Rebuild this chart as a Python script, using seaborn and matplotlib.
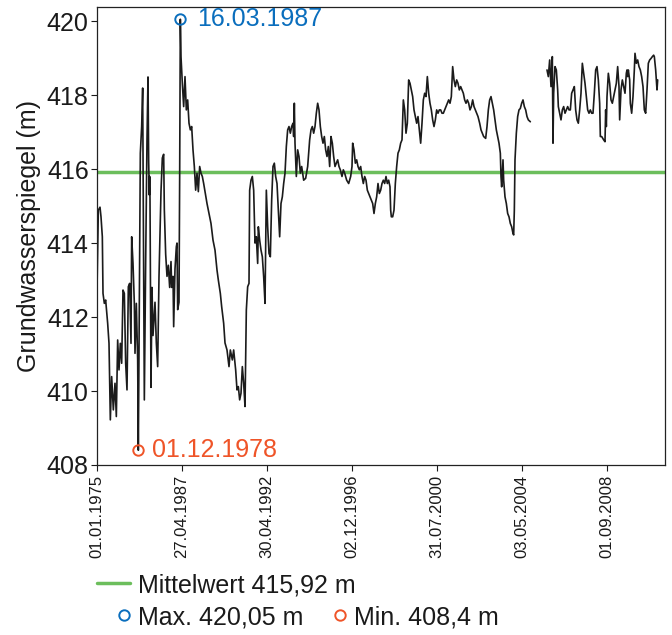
import matplotlib
matplotlib.use("Agg")
import matplotlib.pyplot as plt
from matplotlib.lines import Line2D
import seaborn as sns
import numpy as np
import pandas as pd

# observation number / groundwater level (m), first part 1975-2004
obs_a = [0, 4, 9, 12, 16, 18, 22, 26, 32, 36, 40, 44, 49, 54, 58, 62, 66, 70, 74, 78,
         82, 86, 90, 94, 98, 102, 104, 108, 112, 114, 118, 122, 124, 130, 134, 137, 142, 146, 150, 153,
         155, 157, 158, 159, 162, 165, 168, 174, 178, 182, 186, 192, 196, 200, 202, 206, 210, 214, 218, 222,
         224, 228, 230, 234, 238, 240, 242, 246, 248, 250, 252, 256, 260, 264, 268, 272, 276, 280, 284, 288,
         292, 296, 300, 304, 308, 312, 316, 320, 324, 330, 336, 342, 348, 354, 360, 364, 370, 374, 380, 384,
         390, 396, 400, 406, 410, 416, 420, 424, 428, 432, 436, 440, 444, 448, 452, 456, 458, 462, 466, 470,
         474, 478, 482, 484, 488, 492, 496, 500, 504, 508, 512, 516, 520, 524, 528, 532, 536, 540, 544, 548,
         552, 556, 560, 564, 568, 572, 576, 580, 584, 588, 590, 592, 594, 598, 602, 606, 610, 614, 620, 626,
         632, 638, 642, 646, 650, 654, 658, 662, 666, 670, 674, 678, 682, 686, 690, 694, 698, 702, 706, 710,
         714, 718, 722, 726, 730, 735, 739, 743, 749, 755, 761, 765, 767, 771, 775, 779, 783, 787, 791, 795,
         799, 803, 807, 811, 815, 819, 823, 827, 831, 835, 839, 843, 847, 851, 855, 859, 863, 867, 871, 875,
         879, 881, 883, 887, 891, 895, 899, 903, 907, 911, 915, 919, 923, 927, 931, 935, 939, 943, 947, 951,
         955, 959, 963, 967, 971, 975, 979, 983, 987, 991, 995, 999, 1003, 1007, 1011, 1015, 1019, 1023, 1027, 1031,
         1035, 1039, 1043, 1047, 1051, 1055, 1059, 1063, 1067, 1071, 1075, 1079, 1083, 1087, 1091, 1095, 1099, 1103, 1107, 1111,
         1115, 1119, 1123, 1127, 1131, 1135, 1139, 1143, 1148, 1152, 1156, 1160, 1166, 1170, 1174, 1178, 1182, 1186, 1190, 1194,
         1198, 1202, 1206, 1210, 1212, 1214, 1218, 1220, 1224, 1228, 1232, 1236, 1240, 1244, 1248, 1250, 1252, 1254, 1258, 1262,
         1266, 1270, 1274, 1278, 1282, 1286, 1290, 1294, 1300]
level_a = [412.73, 414.89, 414.97, 414.71, 414.17, 412.64, 412.37, 412.46, 411.83, 411.29, 409.22, 410.39, 409.49, 410.21, 409.31, 411.38, 410.57, 411.29, 410.75, 412.73,
           412.64, 410.75, 410.03, 412.82, 412.91, 411.29, 414.17, 413.45, 412.37, 411.02, 412.37, 410.84, 408.40, 416.43, 417.15, 418.19, 409.76, 413.5, 416.8, 418.49,
           416.20, 415.30, 415.80, 415.20, 410.10, 412.80, 411.50, 412.40, 411.30, 410.66, 413.10, 415.40, 416.30, 416.40, 414.90, 413.70, 413.10, 413.40, 412.80, 413.50,
           412.80, 413.10, 411.74, 413.30, 413.90, 414.00, 412.20, 412.40, 415.80, 420.05, 419.04, 418.32, 417.69, 418.50, 417.60, 417.87, 417.24, 417.06, 417.15, 416.52,
           416.07, 415.43, 415.89, 415.39, 416.07, 415.89, 415.80, 415.61, 415.39, 415.07, 414.80, 414.53, 414.08, 413.81, 413.27, 413.00, 412.64, 412.28, 411.83, 411.30,
           411.11, 410.66, 411.11, 410.84, 411.11, 410.57, 410.03, 410.12, 409.76, 409.94, 410.66, 410.21, 409.58, 412.19, 412.82, 412.91, 415.43, 415.70, 415.80, 415.43,
           414.00, 414.17, 413.45, 414.44, 414.08, 413.81, 413.63, 413.09, 412.37, 415.43, 414.44, 413.72, 413.63, 415.16, 416.07, 416.16, 415.80, 415.61, 414.89, 414.17,
           415.07, 415.25, 415.61, 415.89, 416.61, 417.06, 417.15, 416.97, 417.15, 417.24, 416.88, 417.78, 416.70, 415.80, 416.52, 416.34, 415.89, 416.07, 415.70, 415.75,
           416.07, 416.79, 417.06, 417.15, 416.97, 417.15, 417.51, 417.78, 417.60, 417.15, 416.88, 416.70, 416.88, 416.52, 416.34, 416.61, 416.07, 416.88, 416.70, 416.34,
           416.07, 416.16, 416.25, 416.07, 415.98, 415.80, 415.98, 415.89, 415.70, 415.61, 415.80, 416.07, 416.70, 416.52, 416.16, 416.25, 416.07, 415.98, 416.07, 415.80,
           415.61, 415.80, 415.70, 415.43, 415.34, 415.25, 415.16, 415.07, 414.80, 415.07, 415.25, 415.61, 415.34, 415.43, 415.61, 415.70, 415.61, 415.80, 415.61, 415.70,
           415.52, 414.89, 414.71, 414.71, 414.89, 415.61, 416.07, 416.43, 416.52, 416.70, 416.79, 417.87, 417.60, 416.97, 417.24, 418.41, 418.32, 418.14, 417.96, 417.60,
           417.42, 417.24, 417.42, 417.06, 416.70, 417.24, 417.87, 418.05, 417.96, 418.50, 418.05, 417.78, 417.60, 417.33, 417.15, 417.33, 417.60, 417.51, 417.60, 417.60,
           417.51, 417.51, 417.60, 417.69, 417.78, 417.87, 417.78, 417.96, 418.77, 418.41, 418.23, 418.41, 418.32, 418.14, 418.23, 418.14, 418.05, 417.87, 417.78, 417.87,
           417.78, 417.60, 417.69, 417.87, 417.69, 417.60, 417.51, 417.42, 417.24, 417.06, 416.97, 416.88, 416.83, 417.15, 417.60, 417.87, 417.96, 417.78, 417.60, 417.33,
           417.06, 416.88, 416.70, 416.43, 415.80, 415.52, 416.25, 415.70, 415.25, 415.07, 414.80, 414.71, 414.53, 414.44, 414.26, 414.22, 414.89, 416.25, 416.97, 417.42,
           417.60, 417.64, 417.78, 417.87, 417.69, 417.60, 417.42, 417.33, 417.28]

# second part after the data gap, 2005-2010
obs_b = [1350, 1354, 1358, 1362, 1366, 1368, 1370, 1374, 1378, 1382, 1384, 1388, 1392, 1396, 1400, 1404, 1408, 1412, 1416, 1420,
         1424, 1428, 1432, 1436, 1440, 1444, 1448, 1452, 1456, 1460, 1464, 1468, 1472, 1476, 1480, 1484, 1488, 1492, 1496, 1500,
         1504, 1508, 1510, 1514, 1520, 1524, 1526, 1528, 1530, 1534, 1538, 1542, 1546, 1550, 1554, 1558, 1562, 1566, 1568, 1572,
         1576, 1580, 1584, 1588, 1590, 1592, 1594, 1598, 1600, 1604, 1608, 1612, 1614, 1618, 1622, 1626, 1630, 1634, 1638, 1642,
         1646, 1650, 1654, 1658, 1662, 1666, 1670, 1672, 1676, 1680, 1682]
level_b = [418.68, 418.50, 418.95, 418.23, 419.04, 416.70, 418.05, 418.77, 418.68, 418.14, 417.69, 417.51, 417.33, 417.60, 417.69, 417.51, 417.60, 417.69, 417.60, 417.60,
           418.05, 418.14, 418.23, 417.60, 417.33, 417.24, 417.60, 418.05, 418.86, 418.59, 418.32, 417.96, 417.60, 417.51, 417.60, 417.51, 417.51, 418.05, 418.68, 418.77,
           418.41, 417.78, 416.88, 416.88, 416.79, 416.74, 417.60, 417.15, 417.96, 418.59, 418.32, 417.87, 417.78, 417.96, 418.14, 418.32, 418.77, 418.23, 417.33, 418.14,
           418.41, 418.23, 418.05, 418.59, 418.68, 418.50, 418.68, 418.41, 417.78, 417.51, 417.96, 418.68, 419.13, 418.86, 418.95, 418.77, 418.68, 418.50, 418.23, 417.60,
           417.51, 418.14, 418.86, 418.95, 418.99, 419.04, 419.08, 419.04, 418.68, 418.14, 418.41]

mean_level = 415.92
tick_obs = [0, 255, 510, 765, 1020, 1275, 1530]
tick_labels = ["01.01.1975", "27.04.1987", "30.04.1992", "02.12.1996",
               "31.07.2000", "03.05.2004", "01.09.2008"]
max_label = "16.03.1987"
min_label = "01.12.1978"

BLUE = "#0A6EBD"
ORANGE = "#EF5428"
GREEN = "#6CBE5C"

df = pd.concat([
    pd.DataFrame({"obs": obs_a, "level": level_a, "part": "a"}),
    pd.DataFrame({"obs": obs_b, "level": level_b, "part": "b"}),
], ignore_index=True)

sns.set_style("ticks")
plt.rcParams["font.family"] = ["Liberation Sans", "DejaVu Sans"]
plt.rcParams["text.color"] = "#1a1a1a"
plt.rcParams["xtick.color"] = "#1a1a1a"
plt.rcParams["ytick.color"] = "#1a1a1a"
plt.rcParams["axes.labelcolor"] = "#1a1a1a"

fig = plt.figure(figsize=(6.72, 6.35), dpi=100)
ax = fig.add_axes([97 / 672, 1 - 465 / 635, 568 / 672, 458.3 / 635])

ax.axhline(mean_level, color=GREEN, lw=2.5, zorder=1)
sns.lineplot(data=df, x="obs", y="level", units="part", estimator=None,
             color="#1b1b1b", lw=1.2, ax=ax, zorder=2)

imax = df["level"].idxmax()
imin = df["level"].idxmin()
for i, col, lab, off in [(imax, BLUE, max_label, 12), (imin, ORANGE, min_label, 10)]:
    x, y = df.loc[i, "obs"], df.loc[i, "level"]
    ax.plot(x, y, "o", mfc="none", mec=col, mew=1.4, ms=7.5, zorder=3)
    ax.annotate(lab, (x, y), xytext=(off, 0), textcoords="offset points",
                color=col, fontsize=18, va="center", ha="left")

ax.set_xlim(0, 1704)
ax.set_ylim(408, 420.39)
ax.set_yticks(range(408, 421, 2))
ax.set_xticks(tick_obs)
ax.set_xticklabels(tick_labels, rotation=90, fontsize=12)
ax.tick_params(axis="y", labelsize=18, length=4, width=0.8, pad=2)
ax.tick_params(axis="x", length=4, width=0.8, pad=3)
ax.set_xlabel("")
ax.set_ylabel("Grundwasserspiegel (m)", fontsize=18, labelpad=4)
for s in ax.spines.values():
    s.set_visible(True)
    s.set_linewidth(0.9)
    s.set_color("#222222")

h1 = [Line2D([], [], color=GREEN, lw=2.5)]
fig.legend(h1, ["Mittelwert 415,92 m"], loc="center left",
           bbox_to_anchor=(97 / 672, 1 - 585 / 635), frameon=False,
           fontsize=18, handlelength=1.32, handletextpad=0.32,
           borderpad=0, borderaxespad=0)
h2 = [Line2D([], [], ls="none", marker="o", mfc="none", mec=BLUE, mew=1.4, ms=7.5),
      Line2D([], [], ls="none", marker="o", mfc="none", mec=ORANGE, mew=1.4, ms=7.5)]
fig.legend(h2, ["Max. 420,05 m", "Min. 408,4 m"], loc="center left", ncol=2,
           bbox_to_anchor=(116 / 672, 1 - 617 / 635), frameon=False,
           fontsize=18, handlelength=0.6, handletextpad=0.26, columnspacing=1.2,
           borderpad=0, borderaxespad=0)

fig.savefig("out.png", dpi=100)
